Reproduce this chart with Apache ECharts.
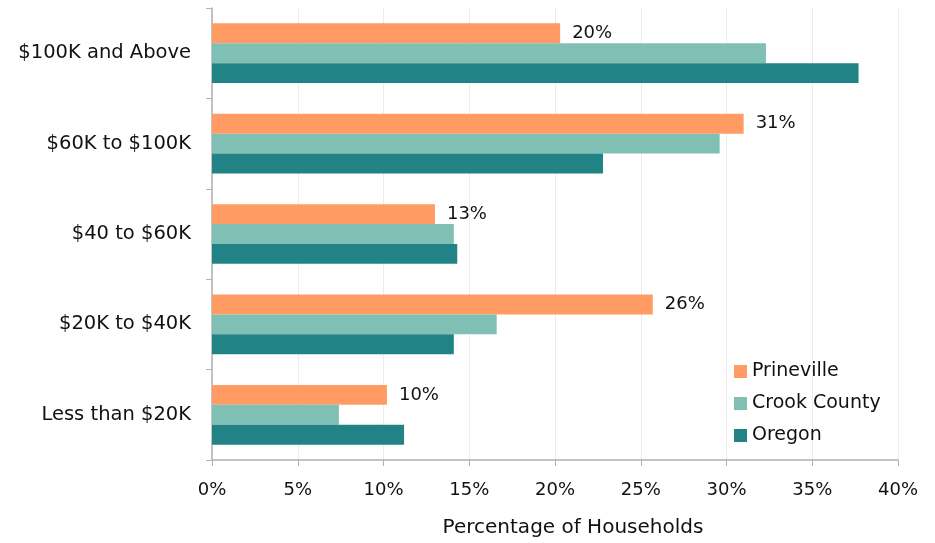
<!DOCTYPE html>
<html>
<head>
<meta charset="utf-8">
<script src="https://cdn.jsdelivr.net/npm/echarts@6/dist/echarts.min.js"></script>
<style>html,body{margin:0;padding:0;background:#fff}#c{width:935px;height:543px}</style>
</head>
<body>
<div id="c"></div>
<script>
const categories = ['Less than $20K', '$20K to $40K', '$40 to $60K', '$60K to $100K', '$100K and Above'];
const prineville = [10.2, 25.7, 13.0, 31.0, 20.3];
const crookCounty = [7.4, 16.6, 14.1, 29.6, 32.3];
const oregon = [11.2, 14.1, 14.3, 22.8, 37.7];
const seriesNames = ['Prineville', 'Crook County', 'Oregon'];
const colors = ['#FF9B63', '#80BFB4', '#218385'];

const font = 'DejaVu Sans';
const chart = echarts.init(document.getElementById('c'));
function mk(name, data, color, showLabel) {
  return {
    name, type: 'bar', data,
    barGap: '0%', barCategoryGap: '34%',
    itemStyle: { color },
    label: showLabel ? {
      show: true, position: 'right', distance: 12,
      formatter: p => Math.round(p.value) + '%',
      color: '#111', fontFamily: font, fontSize: 18
    } : { show: false }
  };
}
chart.setOption({
  animation: false,
  color: colors,
  grid: { left: 212, right: 37, top: 8, bottom: 82, containLabel: false },
  legend: {
    orient: 'vertical', left: 729, top: 357, itemGap: 13,
    itemWidth: 13, itemHeight: 13, icon: 'rect',
    data: seriesNames,
    textStyle: { fontFamily: font, fontSize: 19, color: '#111' }
  },
  xAxis: {
    type: 'value', min: 0, max: 40, interval: 5,
    axisLabel: { formatter: '{value}%', fontFamily: font, fontSize: 18, color: '#111', margin: 21 },
    axisLine: { show: true, lineStyle: { color: '#b0b0b0', width: 1.5 } },
    axisTick: { show: true, length: 6, lineStyle: { color: '#b0b0b0' } },
    splitLine: { show: true, lineStyle: { color: '#ececec' } },
    name: 'Percentage of Households', nameLocation: 'middle', nameGap: 58,
    nameTextStyle: { fontFamily: font, fontSize: 20, color: '#111', padding: [0, 0, 0, 36] }
  },
  yAxis: {
    type: 'category', data: categories,
    axisLine: { show: true, lineStyle: { color: '#b0b0b0', width: 1.5 } },
    axisTick: { show: true, length: 6, lineStyle: { color: '#b0b0b0' } },
    axisLabel: { fontFamily: font, fontSize: 19.5, color: '#111', margin: 21 }
  },
  series: [
    mk('Prineville', prineville, colors[0], true),
    mk('Crook County', crookCounty, colors[1], false),
    mk('Oregon', oregon, colors[2], false)
  ]
});
</script>
</body>
</html>
